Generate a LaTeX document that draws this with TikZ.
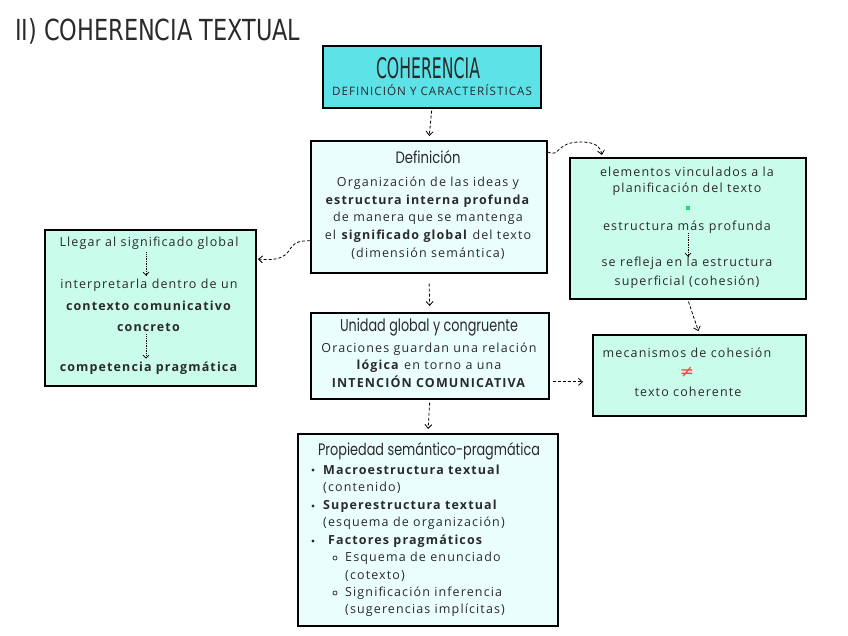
\documentclass[tikz,border=0pt]{standalone}
\usepackage{fontspec}
\setmainfont[LetterSpace=9]{Open Sans}
\newfontfamily\handfont{Poppins}
\newfontfamily\capsfont{DejaVu Sans}
\usetikzlibrary{arrows.meta}
\definecolor{cyanbox}{HTML}{5DE2E7}
\definecolor{palebox}{HTML}{EBFEFE}
\definecolor{mintbox}{HTML}{CAFCEB}
\definecolor{inktext}{HTML}{2A2A2A}
\definecolor{greensq}{HTML}{2ED47A}
\definecolor{redne}{HTML}{FF4040}
\tikzset{
  box/.style={draw=black, line width=1.7pt, anchor=north west, inner sep=0pt},
  txt/.style={inner sep=0pt, text=inktext, font=\fontsize{12.5}{15}\selectfont},
  hd/.style={inner sep=0pt, text=inktext},
  dar/.style={densely dashed, line width=0.8pt, -{Straight Barb[length=4pt,width=7pt]}},
  sar/.style={densely dotted, line width=0.7pt, -{Straight Barb[length=3pt,width=6pt]}},
}
\begin{document}
\begin{tikzpicture}[x=1pt,y=-1pt]
\useasboundingbox (0,0) rectangle (848,636);
% title
\node[inner sep=0pt, anchor=west, text=inktext] (title) at (15,31) {\resizebox{285pt}{22pt}{\capsfont II) COHERENCIA TEXTUAL}};
% boxes
\node[box, fill=cyanbox, minimum width=218pt, minimum height=62pt] (coh) at (322,45) {};
\node[box, fill=palebox, minimum width=236pt, minimum height=132pt] (def) at (310,140) {};
\node[box, fill=mintbox, minimum width=236pt, minimum height=141pt] (rt) at (569,157) {};
\node[box, fill=mintbox, minimum width=211pt, minimum height=156pt] (lt) at (44,229) {};
\node[box, fill=palebox, minimum width=238pt, minimum height=86pt] (unid) at (310,312) {};
\node[box, fill=mintbox, minimum width=213pt, minimum height=81pt] (mec) at (592,334) {};
\node[box, fill=palebox, minimum width=260pt, minimum height=192pt] (prop) at (297,433) {};
% coherencia
\node[inner sep=0pt, text=inktext] (cohT) at (428,68) {\resizebox{104pt}{21pt}{\capsfont COHERENCIA}};
\node[inner sep=0pt, text=inktext] (cohS) at (432,90) {\resizebox{200pt}{!}{\fontsize{10}{12}\selectfont DEFINICIÓN Y CARACTERÍSTICAS}};
% definicion
\node[hd] (defT) at (428,157) {\resizebox{65pt}{13pt}{\handfont Definición}};
\node[txt] (d1) at (428,183) {Organización de las ideas y};
\node[txt] (d2) at (428,201) {\textbf{estructura interna profunda}};
\node[txt] (d3) at (428,218) {de manera que se mantenga};
\node[txt] (d4) at (428,236) {el \textbf{significado global} del texto};
\node[txt] (d5) at (428,254) {(dimensión semántica)};
% right top
\node[txt] (r1) at (687,172) {elementos vinculados a la};
\node[txt] (r2) at (687,189) {planificación del texto};
\node[fill=greensq, minimum size=4.5pt, inner sep=0pt] (rsq) at (688,208) {};
\node[txt] (r3) at (687,227) {estructura más profunda};
\node[txt] (r4) at (687,263) {se refleja en la estructura};
\node[txt] (r5) at (687,282) {superficial (cohesión)};
\draw[sar] (r3.south -| rsq) -- (r4.north -| rsq);
% left
\node[txt] (l1) at (149,243) {Llegar al significado global};
\node[txt] (l2) at (149,285) {interpretarla dentro de un};
\node[txt] (l3) at (149,306) {\textbf{contexto comunicativo}};
\node[txt] (l4) at (149,327) {\textbf{concreto}};
\node[txt] (l5) at (149,368) {\textbf{competencia pragmática}};
\coordinate (lx) at (146,0);
\draw[sar] ([yshift=-3pt]l1.south -| lx) -- ([yshift=3pt]l2.north -| lx);
\draw[sar] ([yshift=-3pt]l4.south -| lx) -- ([yshift=3pt]l5.north -| lx);
% unidad
\node[hd] (uT) at (429,327) {\resizebox{178pt}{13pt}{\handfont Unidad global y congruente}};
\node[txt] (u1) at (429,349) {Oraciones guardan una relación};
\node[txt] (u2) at (429,366) {\textbf{lógica} en torno a una};
\node[txt] (u3) at (429,382) {\textbf{INTENCIÓN COMUNICATIVA}};
% mecanismos
\node[txt] (m1) at (687,353) {mecanismos de cohesión};
\node[inner sep=0pt, text=redne, font=\capsfont\fontsize{17}{17}\selectfont] (m2) at (687,372) {≠};
\node[txt] (m3) at (688,392) {texto coherente};
% propiedad
\node[hd] (pT) at (429,451) {\resizebox{222pt}{13pt}{\handfont Propiedad semántico-pragmática}};
\node[txt, anchor=west] (p1) at (323,470) {\textbf{Macroestructura textual}};
\node[txt, anchor=west] (p2) at (323,488) {(contenido)};
\node[txt, anchor=west] (p3) at (323,506) {\textbf{Superestructura textual}};
\node[txt, anchor=west] (p4) at (323,523) {(esquema de organización)};
\node[txt, anchor=west] (p5) at (328,541) {\textbf{Factores pragmáticos}};
\node[txt, anchor=west] (p6) at (345,558) {Esquema de enunciado};
\node[txt, anchor=west] (p7) at (345,576) {(cotexto)};
\node[txt, anchor=west] (p8) at (345,593) {Significación inferencia};
\node[txt, anchor=west] (p9) at (345,610) {(sugerencias implícitas)};
\foreach \n in {p1,p3,p5} \fill[inktext] (\n.west -| 313,0) circle (1.6pt);
\foreach \n in {p6,p8} \draw[inktext, line width=0.7pt] (\n.west -| 335,0) circle (2pt);
% connectors
\draw[dar, shorten <=2pt, shorten >=4pt] (coh.south) -- (def.north);
\draw[dar, shorten <=10pt, shorten >=6pt] (def.south) -- (unid.north);
\draw[dar, shorten <=3pt, shorten >=4pt] (unid.south) -- (prop.north);
\draw[dar, shorten <=2pt, shorten >=3pt] (rt.south) -- (mec.north);
\coordinate (ua) at ([yshift=-26pt]unid.east);
\draw[dar, shorten <=3pt, shorten >=9pt] (ua) -- (ua -| mec.west);
\coordinate (da) at ([yshift=-12pt]def.north east);
\draw[dar] (da) .. controls (560,158) and (556,142) .. (580,142) .. controls (595,142) and (600,146) .. (602,155);
\coordinate (db) at ([yshift=-34pt]def.west);
\draw[dar] (db) .. controls (290,240) and (292,250) .. (285,255) .. controls (278,260) and (270,260) .. (258,259);
\end{tikzpicture}
\end{document}
